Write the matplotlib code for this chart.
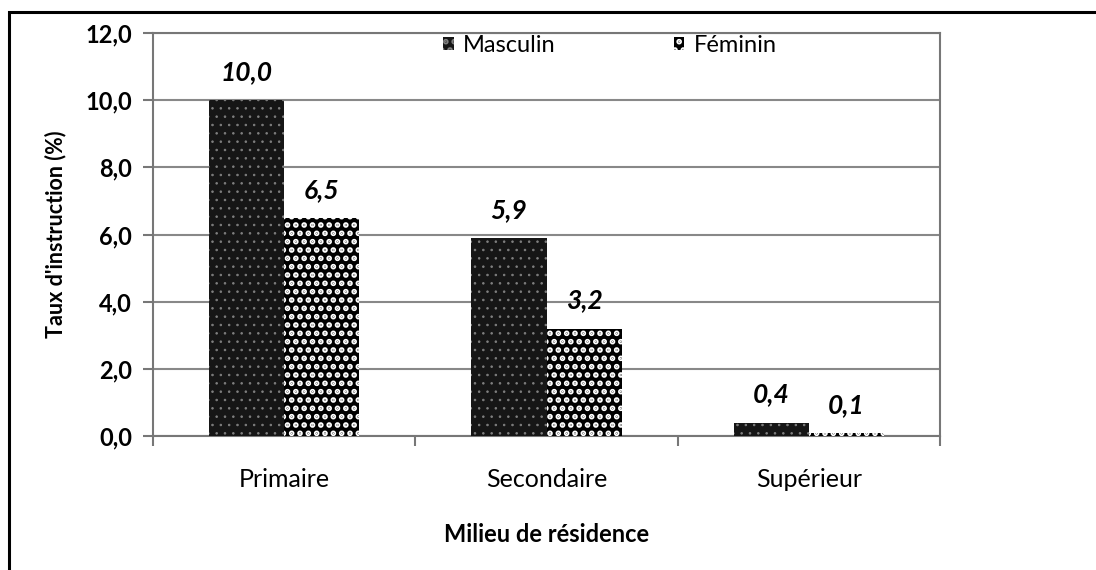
import numpy as np
import matplotlib
matplotlib.use("Agg")
import matplotlib.pyplot as plt
from matplotlib.patches import Rectangle

categories = ["Primaire", "Secondaire", "Supérieur"]
masculin = [10.0, 5.9, 0.4]
feminin = [6.5, 3.2, 0.1]
yticks = [0, 2, 4, 6, 8, 10, 12]

plt.rcParams['font.family'] = ['Lato', 'DejaVu Sans']

fig = plt.figure(figsize=(10.96, 5.70), dpi=100)
ax = fig.add_axes([0.1396, 0.235, 0.7181, 0.707])

# outer frame of the figure
fig.patches.append(Rectangle((0.0082, -0.05), 1.1, 0.05 + 0.979, transform=fig.transFigure,
                             fill=False, edgecolor='black', linewidth=2.2))

x = np.arange(len(categories))
w = 0.286
plt.rcParams['hatch.linewidth'] = 0.6
b1 = ax.bar(x - w / 2, masculin, w, facecolor='#161616', edgecolor='#808080',
            hatch='..', linewidth=0, label='Masculin', zorder=3)
plt.rcParams['hatch.linewidth'] = 2.8
b2 = ax.bar(x + w / 2, feminin, w, facecolor='black', edgecolor='white',
            hatch='..', linewidth=0, label='Féminin', zorder=3)

for bars, vals in [(b1, masculin), (b2, feminin)]:
    for r, v in zip(bars, vals):
        ax.annotate(f"{v:.1f}".replace('.', ','), (r.get_x() + r.get_width() / 2, v),
                    xytext=(0, 16), textcoords='offset pixels', ha='center', va='bottom',
                    fontsize=19, fontweight='bold', fontstyle='italic')

ax.set_xlim(-0.5, 2.5)
ax.set_ylim(0, 12)
ax.set_yticks(yticks)
ax.set_yticklabels([f"{t:.1f}".replace('.', ',') for t in yticks], fontsize=17, fontweight='bold')
ax.set_xticks(x)
ax.set_xticklabels(categories, fontsize=18)
ax.set_xticks([-0.5, 0.5, 1.5, 2.5], minor=True)
ax.tick_params(axis='x', which='major', length=0, pad=23)
ax.tick_params(axis='x', which='minor', length=7, color='#777777', width=1.5)
ax.tick_params(axis='y', length=7, color='#777777', width=1.5, pad=8)
ax.grid(axis='y', color='#888888', linewidth=1.5, zorder=0)
for s in ax.spines.values():
    s.set_color('#777777')
    s.set_linewidth(1.5)

ax.set_ylabel("Taux d'instruction (%)", fontsize=15.5, fontweight='bold', labelpad=14)
ax.set_xlabel("Milieu de résidence", fontsize=17, fontweight='bold', labelpad=23)

ax.legend(loc='upper left', bbox_to_anchor=(0.3685, 0.995), ncol=2, frameon=False,
          fontsize=17, handlelength=0.45, handleheight=0.45, handletextpad=0.4,
          columnspacing=5.0, borderpad=0, borderaxespad=0)

fig.savefig("out.png", dpi=100)
